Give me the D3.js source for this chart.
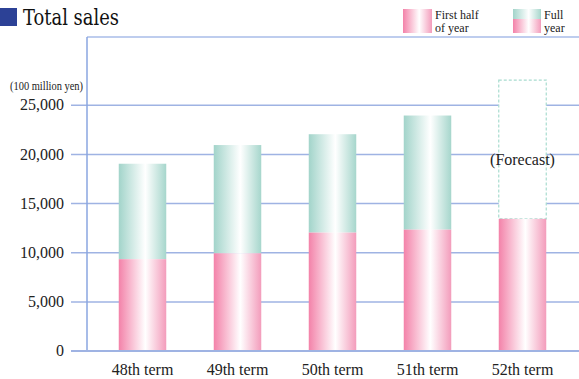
<!DOCTYPE html>
<html>
<head>
<meta charset="utf-8">
<script src="https://cdn.jsdelivr.net/npm/d3@7"></script>
<style>
  body { margin: 0; background: #fff; }
</style>
</head>
<body>
<div id="chart"></div>
<script>
// values in 100 million yen
const terms = ['48th term', '49th term', '50th term', '51th term', '52th term'];
const firstHalf = [9300, 9900, 12000, 12300, 13400];
const fullYear = [19000, 20900, 22000, 23900, 27500];
const isForecast = [false, false, false, false, true];
const yTicks = [0, 5000, 10000, 15000, 20000, 25000];

const W = 579;
const H = 379;
const frame = { left: 87, top: 37, right: 579, bottom: 351 };
const serif = "Liberation Serif";

const svg = d3.select('#chart').append('svg')
    .attr('width', W)
    .attr('height', H)
    .attr('font-family', serif)
    .style('display', 'block');

const defs = svg.append('defs');

function hGradient(id, edgeL, edgeR) {
  const g = defs.append('linearGradient')
    .attr('id', id)
    .attr('x1', '0%').attr('x2', '100%')
    .attr('y1', '0%').attr('y2', '0%');
  g.append('stop').attr('offset', '0%').attr('stop-color', edgeL);
  g.append('stop').attr('offset', '56%').attr('stop-color', '#ffffff');
  g.append('stop').attr('offset', '100%').attr('stop-color', edgeR);
}
hGradient('pink', '#f382a9', '#f39cbb');
hGradient('teal', '#a2d4ca', '#a6d6cc');

const xScale = d3.scaleBand()
    .domain(terms)
    .range([95, 570])
    .paddingInner(0.5)
    .paddingOuter(0.25);

const yScale = d3.scaleLinear()
    .domain([0, 25000])
    .range([350.7, 104.7]);

const idx = d => terms.indexOf(d);

// frame top line
svg.append('line')
    .attr('x1', frame.left).attr('x2', frame.right)
    .attr('y1', frame.top).attr('y2', frame.top)
    .attr('stroke', '#a9bde8').attr('stroke-width', 1.5);

// y axis with gridlines
const yAxis = d3.axisLeft(yScale)
    .tickValues(yTicks)
    .tickSize(-(frame.right - 71))
    .tickPadding(7)
    .tickFormat(d3.format(','));

const yG = svg.append('g')
    .attr('transform', 'translate(71,0)')
    .call(yAxis);
yG.select('.domain').remove();
yG.selectAll('line')
    .attr('stroke', '#9fb3e3')
    .attr('stroke-width', 1.5);
yG.selectAll('text')
    .attr('font-size', '16px')
    .attr('fill', '#222')
    .attr('font-family', serif);

svg.append('line')
    .attr('x1', frame.left).attr('x2', frame.left)
    .attr('y1', frame.top).attr('y2', frame.bottom)
    .attr('stroke', '#8aa6e0').attr('stroke-width', 1.5);

// bars
const bar = svg.append('g').selectAll('g')
    .data(terms)
  .enter().append('g');

bar.filter(d => !isForecast[idx(d)]).append('rect')
    .attr('x', d => xScale(d))
    .attr('width', xScale.bandwidth())
    .attr('y', d => yScale(fullYear[idx(d)]))
    .attr('height', d => yScale(firstHalf[idx(d)]) - yScale(fullYear[idx(d)]))
    .attr('fill', 'url(#teal)');

bar.filter(d => isForecast[idx(d)]).append('rect')
    .attr('x', d => xScale(d))
    .attr('width', xScale.bandwidth())
    .attr('y', d => yScale(fullYear[idx(d)]))
    .attr('height', d => yScale(firstHalf[idx(d)]) - yScale(fullYear[idx(d)]))
    .attr('fill', '#fff')
    .attr('stroke', '#a8dccf')
    .attr('stroke-width', 1.2)
    .attr('stroke-dasharray', '3,2');

bar.append('rect')
    .attr('x', d => xScale(d))
    .attr('width', xScale.bandwidth())
    .attr('y', d => yScale(firstHalf[idx(d)]))
    .attr('height', d => yScale(0) - yScale(firstHalf[idx(d)]))
    .attr('fill', 'url(#pink)');

bar.filter(d => isForecast[idx(d)]).append('text')
    .attr('x', d => xScale(d) + xScale.bandwidth() / 2)
    .attr('y', 165)
    .attr('text-anchor', 'middle')
    .attr('font-size', '16px')
    .attr('fill', '#222')
    .text('(Forecast)');

// baseline on top of bars
svg.append('line')
    .attr('x1', 71).attr('x2', frame.right)
    .attr('y1', yScale(0)).attr('y2', yScale(0))
    .attr('stroke', '#9fb3e3').attr('stroke-width', 1.5);

// x axis labels
const xAxis = d3.axisBottom(xScale)
    .tickSize(0)
    .tickPadding(13);
const xG = svg.append('g')
    .attr('transform', `translate(0,${yScale(0)})`)
    .call(xAxis);
xG.select('.domain').remove();
xG.selectAll('text')
    .attr('font-size', '16px')
    .attr('fill', '#222')
    .attr('font-family', serif);

// unit label
svg.append('text')
    .attr('x', 83).attr('y', 90)
    .attr('text-anchor', 'end')
    .attr('font-size', '13px')
    .attr('textLength', 73)
    .attr('lengthAdjust', 'spacingAndGlyphs')
    .attr('fill', '#222')
    .text('(100 million yen)');

// title
svg.append('rect')
    .attr('x', 0).attr('y', 8)
    .attr('width', 17).attr('height', 18)
    .attr('fill', '#2c4196');
svg.append('text')
    .attr('x', 23).attr('y', 25)
    .attr('font-family', 'DejaVu Serif')
    .attr('font-size', '22px')
    .attr('textLength', 96)
    .attr('lengthAdjust', 'spacingAndGlyphs')
    .attr('fill', '#111')
    .text('Total sales');

// legend
const legend = svg.append('g');
legend.append('rect')
    .attr('x', 403).attr('y', 9)
    .attr('width', 29).attr('height', 24)
    .attr('fill', 'url(#pink)');
legend.append('text')
    .attr('x', 435).attr('y', 19)
    .attr('font-size', '12px').attr('fill', '#222')
    .text('First half');
legend.append('text')
    .attr('x', 435).attr('y', 32)
    .attr('font-size', '12px').attr('fill', '#222')
    .text('of year');
legend.append('rect')
    .attr('x', 513).attr('y', 9)
    .attr('width', 28).attr('height', 10)
    .attr('fill', 'url(#teal)');
legend.append('rect')
    .attr('x', 513).attr('y', 19)
    .attr('width', 28).attr('height', 14)
    .attr('fill', 'url(#pink)');
legend.append('text')
    .attr('x', 544).attr('y', 19)
    .attr('font-size', '12px').attr('fill', '#222')
    .text('Full');
legend.append('text')
    .attr('x', 544).attr('y', 32)
    .attr('font-size', '12px').attr('fill', '#222')
    .text('year');
</script>
</body>
</html>
